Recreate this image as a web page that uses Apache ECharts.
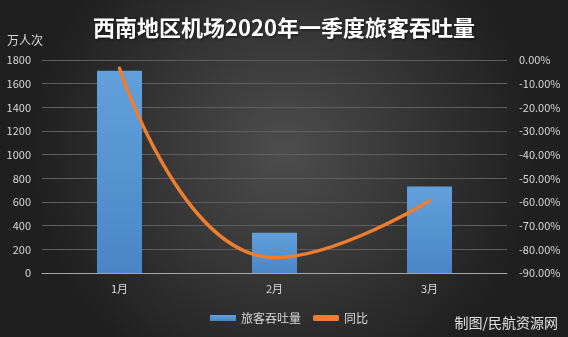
<!DOCTYPE html>
<html><head><meta charset="utf-8">
<script src="https://cdn.jsdelivr.net/npm/echarts@6/dist/echarts.min.js"></script>
<style>html,body{margin:0;padding:0;}#c{width:568px;height:337px;}</style>
</head><body><div id="c"></div>
<script>
const categories = ['1月', '2月', '3月'];
const passengers = [1710, 340, 730];
const yoy = [-3.5, -83.5, -59.5];
const leftTicks = [0, 200, 400, 600, 800, 1000, 1200, 1400, 1600, 1800];
const rightTicks = [-90, -80, -70, -60, -50, -40, -30, -20, -10, 0];

const font = '"Noto Sans CJK SC", "Noto Sans", sans-serif';
const chart = echarts.init(document.getElementById('c'));
chart.setOption({
  backgroundColor: new echarts.graphic.RadialGradient(0.5, 0.45, 0.75, [
    {offset: 0, color: '#4d4d4d'}, {offset: 1, color: '#1f1f1f'}
  ]),
  animation: false,
  title: {
    text: '西南地区机场2020年一季度旅客吞吐量',
    left: 'center', top: 12,
    textStyle: {color: '#ffffff', fontSize: 22, fontWeight: 'bold', fontFamily: font,
      textShadowColor: 'rgba(0,0,0,0.6)', textShadowBlur: 3, textShadowOffsetX: 1, textShadowOffsetY: 1}
  },
  graphic: [
    {type: 'text', left: 7, top: 34, style: {text: '万人次', fill: '#d9d9d9', font: '12px ' + font}},
    {type: 'text', right: 10, top: 316, style: {text: '制图/民航资源网', fill: '#e0e0e0', font: '14px ' + font}}
  ],
  legend: {
    bottom: 8, left: 205,
    itemWidth: 26, itemHeight: 6, itemGap: 12,
    textStyle: {color: '#d9d9d9', fontSize: 12, fontFamily: font},
    data: [{name: '旅客吞吐量', icon: 'rect'}, {name: '同比', icon: 'roundRect'}]
  },
  grid: {left: 42, right: 61, top: 60, bottom: 64},
  xAxis: {
    type: 'category', data: categories,
    axisLine: {lineStyle: {color: '#a6a6a6'}},
    axisTick: {show: false},
    axisLabel: {color: '#d9d9d9', fontSize: 11, fontFamily: font, margin: 10}
  },
  yAxis: [
    {type: 'value', min: 0, max: 1800, interval: 200,
      axisLine: {show: false}, axisTick: {show: false},
      axisLabel: {color: '#d9d9d9', fontSize: 11, fontFamily: font, margin: 11,
        formatter: v => String(v)},
      splitLine: {lineStyle: {color: '#5e5e5e', width: 1}}},
    {type: 'value', min: -90, max: 0, interval: 10,
      axisLine: {show: false}, axisTick: {show: false},
      axisLabel: {color: '#d9d9d9', fontSize: 11, fontFamily: font, margin: 12,
        formatter: v => v.toFixed(2) + '%'},
      splitLine: {show: false}}
  ],
  series: [
    {name: '旅客吞吐量', type: 'bar', data: passengers, barWidth: 45,
      itemStyle: {color: new echarts.graphic.LinearGradient(0, 0, 0, 1, [
        {offset: 0, color: '#62a0dc'}, {offset: 1, color: '#4a86c6'}])}},
    {name: '同比', type: 'line', yAxisIndex: 1, data: yoy, smooth: 0.5,
      symbol: 'none', lineStyle: {color: '#ed7d31', width: 3.5, cap: 'round'},
      itemStyle: {color: '#ed7d31'}}
  ]
});
</script></body></html>
